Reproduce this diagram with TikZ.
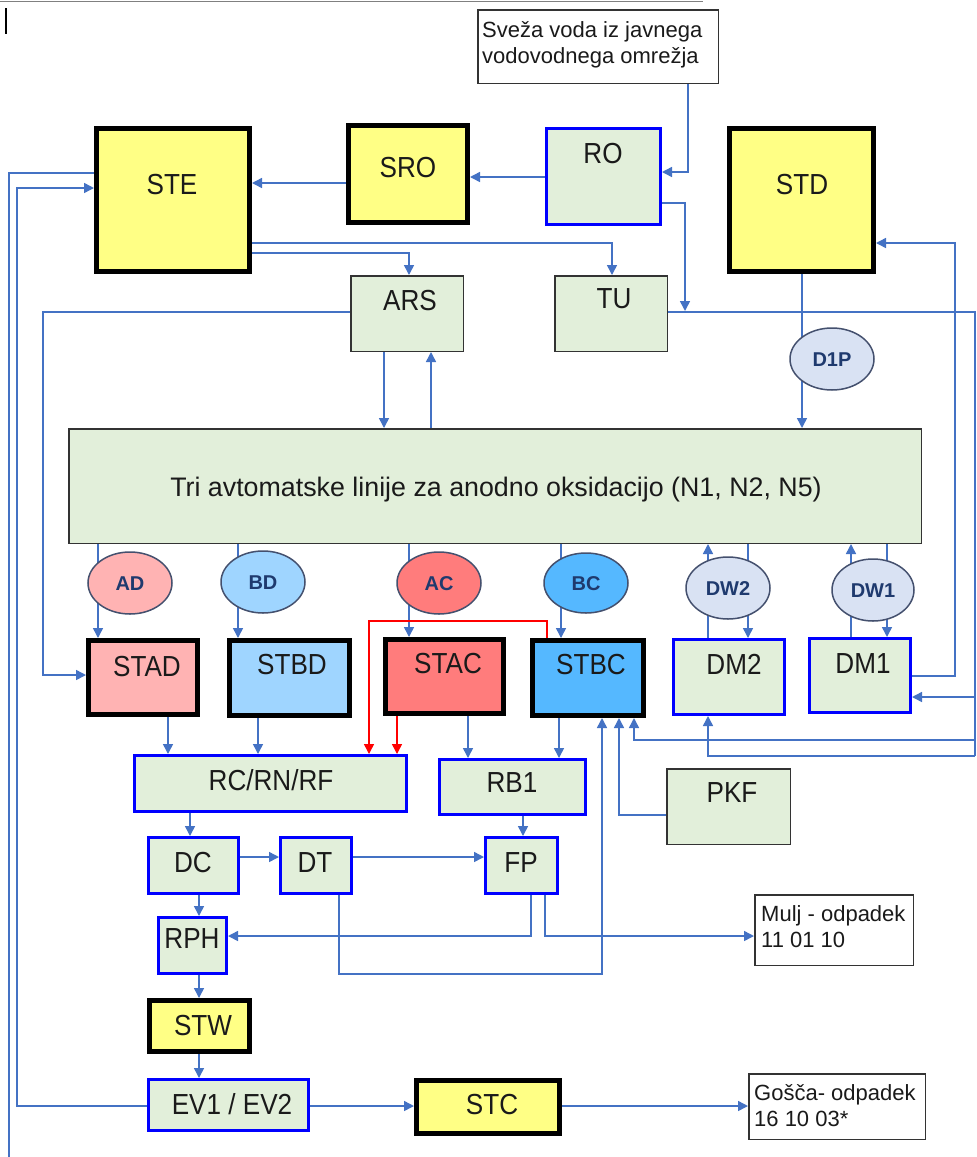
\documentclass[tikz,border=0pt]{standalone}
\usepackage{fontspec}
\setmainfont{Liberation Sans}
\newfontfamily\labfam{Liberation Sans}[FakeStretch=0.9]
\usetikzlibrary{arrows.meta,shapes.geometric,calc}
\definecolor{yel}{HTML}{FFFF85}
\definecolor{grn}{HTML}{E2EFDA}
\definecolor{pinkA}{HTML}{FFB3B3}
\definecolor{lblueB}{HTML}{9FD5FF}
\definecolor{redA}{HTML}{FF7C7C}
\definecolor{blueB}{HTML}{55B8FF}
\definecolor{dfill}{HTML}{D9E2F3}
\definecolor{lblue}{HTML}{4472C4}
\definecolor{bblue}{HTML}{0000FF}
\definecolor{navy}{HTML}{1F3A6E}
\definecolor{eb}{HTML}{44506E}
\definecolor{txt}{HTML}{1A1A1A}
\definecolor{dgrey}{HTML}{333333}
\newcommand\bigf{\labfam\fontsize{29}{32}\selectfont}
\newcommand\mainf{\fontsize{26.8}{30}\selectfont}
\newcommand\smallf{\fontsize{22}{26}\selectfont}
\newcommand\ellf{\fontsize{20}{22}\selectfont\bfseries}
\begin{document}
\begin{tikzpicture}[x=1pt,y=-1pt,
 conn/.style={draw=lblue, line width=1.5pt},
 arr/.style={conn, -{Triangle[length=10pt,width=10pt]}},
 rarr/.style={draw=red, line width=1.5pt, -{Triangle[length=10pt,width=10pt]}},
 thickbox/.style={draw=black, line width=5pt, rectangle, inner sep=0pt},
 bluebox/.style={draw=bblue, line width=3pt, fill=grn, rectangle, inner sep=0pt},
 thinbox/.style={draw=dgrey, line width=1.5pt, rectangle, inner sep=0pt},
 lab/.style={font=\bigf, text=txt, inner sep=0pt, text height=20.8pt, text depth=0pt},
 ell/.style={ellipse, draw=eb, line width=1.5pt, inner sep=0pt, font=\ellf, text=navy, text height=14.3pt, text depth=0pt, minimum width=84pt, minimum height=62pt},
 small/.style={font=\smallf, text=txt, inner sep=0pt, anchor=base west}]
\useasboundingbox (0,0) rectangle (977,1157);
\fill[white] (0,0) rectangle (977,1157);
% top remnants
\draw[gray, line width=1pt] (0,1) -- (703,1);
\draw[black, line width=1.2pt] (6,8) -- (6,34);
% boxes
\node[thinbox, fill=white, minimum width=240.5pt, minimum height=73.5pt] (Sveza) at (598,46.5) {};
\node[small] (Sveza1) at (482,37.5) {Sveža voda iz javnega};
\node[small] (Sveza2) at (482,63.5) {vodovodnega omrežja};
\node[thickbox, fill=yel, minimum width=119pt, minimum height=97pt] (SRO) at (408,174) {};
\node[lab] (SROt) at (408,167) {SRO};
\node[thickbox, fill=yel, minimum width=153pt, minimum height=143pt] (STE) at (173,200) {};
\node[lab] (STEt) at (172,184) {STE};
\node[bluebox, minimum width=114pt, minimum height=96pt] (RO) at (603.5,176.5) {};
\node[lab] (ROt) at (603,153) {RO};
\node[thickbox, fill=yel, minimum width=144pt, minimum height=143pt] (STD) at (801.5,200) {};
\node[lab] (STDt) at (802,184) {STD};
\node[thinbox, fill=grn, minimum width=112.5pt, minimum height=75.5pt] (ARS) at (407,313.5) {};
\node[lab] (ARSt) at (410,300) {ARS};
\node[thinbox, fill=grn, minimum width=112.5pt, minimum height=75.5pt] (TU) at (611,313.5) {};
\node[lab] (TUt) at (614,298) {TU};
\node[thinbox, fill=grn, minimum width=852.5pt, minimum height=114.5pt] (main) at (495,486) {};
\node[lab, font=\mainf, text height=19.2pt] (maint) at (496,487) {Tri avtomatske linije za anodno oksidacijo (N1, N2, N5)};
\node[thickbox, fill=pinkA, minimum width=109pt, minimum height=74pt] (STAD) at (143,677.5) {};
\node[lab] (STADt) at (147,666) {STAD};
\node[thickbox, fill=lblueB, minimum width=120pt, minimum height=75pt] (STBD) at (289.5,678) {};
\node[lab] (STBDt) at (292,664) {STBD};
\node[thickbox, fill=redA, minimum width=118pt, minimum height=74pt] (STAC) at (444.5,676.5) {};
\node[lab] (STACt) at (448,663) {STAC};
\node[thickbox, fill=blueB, minimum width=111pt, minimum height=75pt] (STBC) at (588,678) {};
\node[lab] (STBCt) at (591,664) {STBC};
\node[bluebox, minimum width=111pt, minimum height=75pt] (DM2) at (729,677) {};
\node[lab] (DM2t) at (734,664) {DM2};
\node[bluebox, minimum width=101pt, minimum height=74pt] (DM1) at (860,675.5) {};
\node[lab] (DM1t) at (863,663) {DM1};
\node[bluebox, minimum width=272pt, minimum height=56pt] (RC) at (270.5,783.5) {};
\node[lab] (RCt) at (271,780) {RC/RN/RF};
\node[bluebox, minimum width=146pt, minimum height=55pt] (RB1) at (512.5,787) {};
\node[lab] (RB1t) at (512,782) {RB1};
\node[thinbox, fill=grn, minimum width=123.5pt, minimum height=75.5pt] (PKF) at (728.5,806.5) {};
\node[lab] (PKFt) at (732,792) {PKF};
\node[bluebox, minimum width=90pt, minimum height=56pt] (DC) at (193.5,865.5) {};
\node[lab] (DCt) at (193,862) {DC};
\node[bluebox, minimum width=71pt, minimum height=56pt] (DT) at (316,865.5) {};
\node[lab] (DTt) at (315,862) {DT};
\node[bluebox, minimum width=72pt, minimum height=56pt] (FP) at (521.5,865.5) {};
\node[lab] (FPt) at (521,862) {FP};
\node[bluebox, minimum width=68pt, minimum height=56pt] (RPH) at (192.5,945.5) {};
\node[lab] (RPHt) at (192,938) {RPH};
\node[thinbox, fill=white, minimum width=158.5pt, minimum height=70.5pt] (Mulj) at (834,930) {};
\node[small] (Mulj1) at (761,921.5) {Mulj - odpadek};
\node[small] (Mulj2) at (761,947.5) {11 01 10};
\node[thickbox, fill=yel, minimum width=100pt, minimum height=51pt] (STW) at (199.5,1026) {};
\node[lab] (STWt) at (203,1025) {STW};
\node[bluebox, minimum width=160pt, minimum height=51pt] (EV) at (228.5,1105) {};
\node[lab] (EVt) at (232,1104) {EV1 / EV2};
\node[thickbox, fill=yel, minimum width=143pt, minimum height=53pt] (STC) at (488,1107) {};
\node[lab] (STCt) at (492,1104) {STC};
\node[thinbox, fill=white, minimum width=176.5pt, minimum height=65.5pt] (Gosca) at (837,1106.5) {};
\node[small] (Gosca1) at (754,1100) {Gošča- odpadek};
\node[small] (Gosca2) at (754,1126) {16 10 03*};
% free-end coordinates
\coordinate (bus) at (975,312);
\coordinate (busEnd) at (975,756);
\coordinate (lowEnd) at (9,1157);
% connectors
\draw[arr] (Sveza.south -| 688,0) |- (RO.east |- 0,172);
\draw[arr] (RO.west |- 0,177) -- (SRO.east |- 0,177);
\draw[arr] (SRO.west |- 0,183) -- (STE.east |- 0,183);
\draw[arr] (STE.east |- 0,243) -| (TU.north -| 612,0);
\draw[arr] (STE.east |- 0,253) -| (ARS.north -| 409,0);
\draw[arr] (RO.east |- 0,203) -| (685,311);
\draw[conn] (TU.east |- 0,312) -- (bus) -- (busEnd);
\draw[arr] (busEnd) -| (DM2.south -| 708,0);
\draw[arr] (bus |- 0,697) -- (DM1.east |- 0,697);
\draw[arr] (bus |- 0,740) -| (STBC.south -| 634,0);
\draw[arr] (ARS.west |- 0,312) -| (43,675) -- (STAD.west |- 0,675);
\draw[arr] (ARS.south -| 384,0) -- (main.north -| 384,0);
\draw[arr] (main.north -| 431,0) -- (ARS.south -| 431,0);
\draw[arr] (STD.south -| 802,0) -- (main.north -| 802,0);
\draw[arr] (DM1.east |- 0,676) -| (955,243) -- (STD.east |- 0,243);
\draw[arr] (main.south -| 98,0) -- (STAD.north -| 98,0);
\draw[arr] (main.south -| 238,0) -- (STBD.north -| 238,0);
\draw[arr] (main.south -| 409,0) -- (STAC.north -| 409,0);
\draw[arr] (main.south -| 561,0) -- (STBC.north -| 561,0);
\draw[arr] (DM2.north -| 708,0) -- (main.south -| 708,0);
\draw[arr] (main.south -| 748,0) -- (DM2.north -| 748,0);
\draw[arr] (DM1.north -| 851,0) -- (main.south -| 851,0);
\draw[arr] (main.south -| 887,0) -- (DM1.north -| 887,0);
\draw[rarr] (STBC.north -| 547,0) |- (369,621) -- (RC.north -| 369,0);
\draw[rarr] (STAC.south -| 397,0) -- (RC.north -| 397,0);
\draw[arr] (STAD.south -| 168,0) -- (RC.north -| 168,0);
\draw[arr] (STBD.south -| 258,0) -- (RC.north -| 258,0);
\draw[arr] (STAC.south -| 468,0) -- (RB1.north -| 468,0);
\draw[arr] (STBC.south -| 559,0) -- (RB1.north -| 559,0);
\draw[arr] (RC.south -| 190,0) -- (DC.north -| 190,0);
\draw[arr] (DC.east |- 0,857) -- (DT.west |- 0,857);
\draw[arr] (DT.east |- 0,857) -- (FP.west |- 0,857);
\draw[arr] (RB1.south -| 523,0) -- (FP.north -| 523,0);
\draw[arr] (DC.south -| 199,0) -- (RPH.north -| 199,0);
\draw[arr] (FP.south -| 531,0) |- (RPH.east |- 0,936);
\draw[arr] (FP.south -| 545,0) |- (Mulj.west |- 0,936);
\draw[arr] (DT.south -| 339,0) |- (602,974) -- (STBC.south -| 602,0);
\draw[arr] (PKF.west |- 0,815) -| (STBC.south -| 619,0);
\draw[arr] (RPH.south -| 199,0) -- (STW.north -| 199,0);
\draw[arr] (STW.south -| 199,0) -- (EV.north -| 199,0);
\draw[arr] (EV.east |- 0,1106) -- (STC.west |- 0,1106);
\draw[arr] (STC.east |- 0,1106) -- (Gosca.west |- 0,1106);
\draw[arr] (EV.west |- 0,1106) -| (17,188) -- (STE.west |- 0,188);
\draw[conn] (STE.west |- 0,173) -| (lowEnd);
% ellipses
\node[ell, fill=dfill] (D1P) at (832,359) {D1P};
\node[ell, fill=pinkA] (AD) at (130,583) {AD};
\node[ell, fill=lblueB] (BD) at (263,582) {BD};
\node[ell, fill=redA] (AC) at (439,583) {AC};
\node[ell, fill=blueB, minimum height=60pt] (BC) at (586,583) {BC};
\node[ell, fill=dfill] (DW2) at (728,588) {DW2};
\node[ell, fill=dfill, minimum width=82pt] (DW1) at (873,590) {DW1};
\end{tikzpicture}
\end{document}
